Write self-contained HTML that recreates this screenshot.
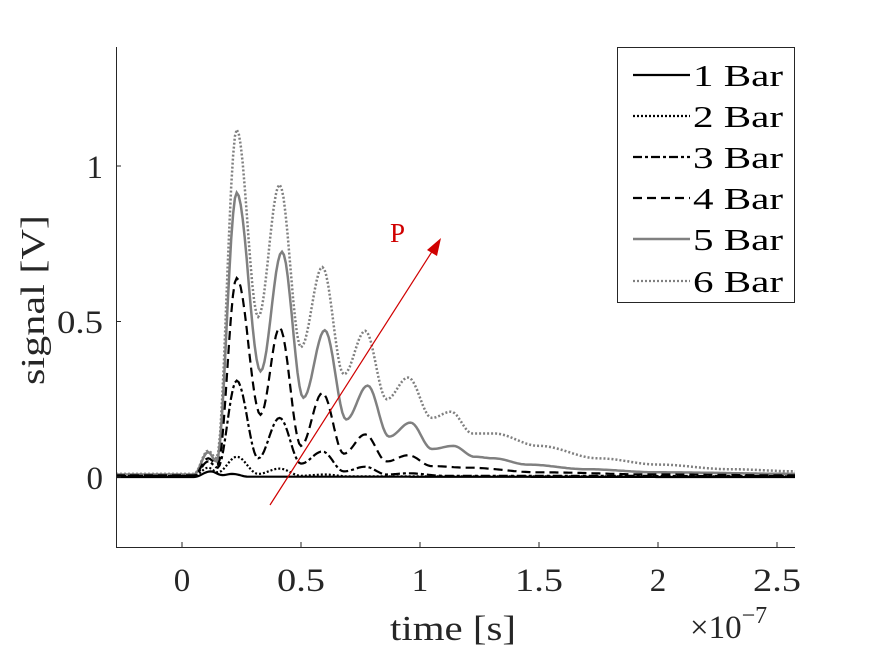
<!DOCTYPE html>
<html><head><meta charset="utf-8"><style>
body{margin:0;background:#fff;}
svg{display:block;font-family:"Liberation Serif",serif;}
</style></head><body>
<svg id="s" width="875" height="656" viewBox="0 0 875 656" xmlns="http://www.w3.org/2000/svg">
<rect width="875" height="656" fill="#fff"/>
<g id="plot"></g>
<g stroke="#262626" stroke-width="1" fill="none">
<line x1="116.5" y1="47" x2="116.5" y2="547.5"/>
<line x1="116" y1="547.5" x2="795" y2="547.5"/>
<line x1="116" y1="477" x2="121" y2="477"/><line x1="116" y1="321.5" x2="121" y2="321.5"/><line x1="116" y1="166" x2="121" y2="166"/>
<line x1="182" y1="547" x2="182" y2="542"/><line x1="301" y1="547" x2="301" y2="542"/><line x1="420" y1="547" x2="420" y2="542"/><line x1="539" y1="547" x2="539" y2="542"/><line x1="658" y1="547" x2="658" y2="542"/><line x1="777" y1="547" x2="777" y2="542"/>
</g>
<g fill="#262626" font-size="33">
<text x="103" y="489" text-anchor="end">0</text>
<text x="103" y="333" text-anchor="end" textLength="46" lengthAdjust="spacingAndGlyphs">0.5</text>
<text x="103" y="178" text-anchor="end">1</text>
<g text-anchor="middle">
<text x="182" y="591">0</text><text x="301" y="591" textLength="48" lengthAdjust="spacingAndGlyphs">0.5</text><text x="420" y="591">1</text><text x="539" y="591" textLength="48" lengthAdjust="spacingAndGlyphs">1.5</text><text x="658" y="591">2</text><text x="777" y="591" textLength="48" lengthAdjust="spacingAndGlyphs">2.5</text>
</g>
<text x="453" y="640" text-anchor="middle" font-size="35" textLength="126" lengthAdjust="spacingAndGlyphs">time [s]</text>
<text transform="translate(44,300) rotate(-90)" text-anchor="middle" font-size="34" textLength="170" lengthAdjust="spacingAndGlyphs">signal [V]</text>
<text x="690" y="638" font-size="33">×10<tspan dy="-15" font-size="24">−7</tspan></text>
</g>
<g>
<line x1="270" y1="505" x2="433" y2="250" stroke="#d00000" stroke-width="1.2"/>
<polygon points="441,238 427,250 437,256" fill="#d00000"/>
<text x="390" y="242" fill="#d00000" font-size="27">P</text>
</g>
<g>
<rect x="617.5" y="47.5" width="177" height="255" fill="#fff" stroke="#262626" stroke-width="1"/>
<g stroke-width="2.2" fill="none">
<line x1="633" y1="75" x2="690" y2="75" stroke="#000"/>
<line x1="633" y1="116" x2="690" y2="116" stroke="#000" stroke-dasharray="2,2"/>
<line x1="633" y1="157" x2="690" y2="157" stroke="#000" stroke-dasharray="9,3,3,3"/>
<line x1="633" y1="198" x2="690" y2="198" stroke="#000" stroke-dasharray="9,5"/>
<line x1="633" y1="239" x2="690" y2="239" stroke="#808080" stroke-width="2.5"/>
<line x1="633" y1="281" x2="690" y2="281" stroke="#808080" stroke-dasharray="2,2"/>
</g>
<g fill="#000" font-size="31">
<text x="693" y="86" textLength="90" lengthAdjust="spacingAndGlyphs">1 Bar</text><text x="693" y="127" textLength="90" lengthAdjust="spacingAndGlyphs">2 Bar</text><text x="693" y="168" textLength="90" lengthAdjust="spacingAndGlyphs">3 Bar</text><text x="693" y="209" textLength="90" lengthAdjust="spacingAndGlyphs">4 Bar</text><text x="693" y="250" textLength="90" lengthAdjust="spacingAndGlyphs">5 Bar</text><text x="693" y="292" textLength="90" lengthAdjust="spacingAndGlyphs">6 Bar</text>
</g>
</g>
</svg>
<script>
var X=function(t){return 182+238*t},Y=function(v){return 477-311*v};
var S=[
 {c:"#808080",w:2.5,d:"2,2",p:[[-0.3,0.01],[0.05,0.01],[0.11,0.085],[0.145,0.06],[0.23,1.117],[0.32,0.515],[0.41,0.94],[0.5,0.417],[0.59,0.675],[0.68,0.33],[0.77,0.47],[0.86,0.25],[0.95,0.32],[1.05,0.19],[1.13,0.21],[1.22,0.14],[1.31,0.14],[1.5,0.1],[1.75,0.06],[2.0,0.04],[2.3,0.025],[2.6,0.018]]},
 {c:"#808080",w:2.5,d:"",p:[[-0.3,0.008],[0.05,0.008],[0.11,0.08],[0.145,0.05],[0.23,0.914],[0.33,0.34],[0.42,0.724],[0.51,0.255],[0.6,0.472],[0.69,0.185],[0.78,0.294],[0.87,0.13],[0.96,0.175],[1.05,0.09],[1.14,0.10],[1.23,0.065],[1.31,0.06],[1.45,0.04],[1.7,0.025],[2.0,0.015],[2.6,0.01]]},
 {c:"#000",w:2.2,d:"9,5",p:[[-0.3,0.005],[0.05,0.005],[0.11,0.06],[0.15,0.04],[0.23,0.64],[0.33,0.2],[0.41,0.48],[0.5,0.1],[0.59,0.27],[0.68,0.075],[0.77,0.137],[0.86,0.05],[0.95,0.07],[1.05,0.035],[1.2,0.03],[1.5,0.015],[2.0,0.008],[2.6,0.005]]},
 {c:"#000",w:2.2,d:"9,3,3,3",p:[[-0.3,0.004],[0.05,0.004],[0.11,0.05],[0.15,0.03],[0.23,0.31],[0.32,0.06],[0.41,0.19],[0.5,0.043],[0.59,0.082],[0.68,0.018],[0.77,0.033],[0.86,0.008],[0.95,0.012],[1.1,0.004],[2.6,0.003]]},
 {c:"#000",w:2.2,d:"2,2",p:[[-0.3,0.003],[0.05,0.003],[0.11,0.03],[0.15,0.015],[0.23,0.065],[0.32,0.01],[0.41,0.027],[0.5,0.004],[0.6,0.008],[0.7,0.002],[2.6,0.002]]},
 {c:"#000",w:2.2,d:"",p:[[-0.3,0.0],[0.05,0.0],[0.12,0.018],[0.17,0.006],[0.21,0.01],[0.28,0.001],[2.6,0.0]]}
];
var g=document.getElementById("plot"),h="";
S.forEach(function(s){
 var pts=[],p=s.p;
 for(var i=0;i<p.length-1;i++){var a=p[i],b=p[i+1],n=Math.max(2,Math.ceil((b[0]-a[0])*120));
  for(var k=0;k<n;k++){var u=k/n,e=(1-Math.cos(Math.PI*u))/2;var t=a[0]+(b[0]-a[0])*u,v=a[1]+(b[1]-a[1])*e;
   var x=X(t);if(x<116)x=116;if(x>795)x=795;pts.push(x.toFixed(1)+","+Y(v).toFixed(1));}}
 pts.push("795,"+Y(p[p.length-1][1]).toFixed(1));
 h+='<polyline fill="none" stroke="'+s.c+'" stroke-width="'+s.w+'"'+(s.d?' stroke-dasharray="'+s.d+'"':'')+' points="'+pts.join(" ")+'"/>';
});
g.innerHTML=h;
</script>
</body></html>
